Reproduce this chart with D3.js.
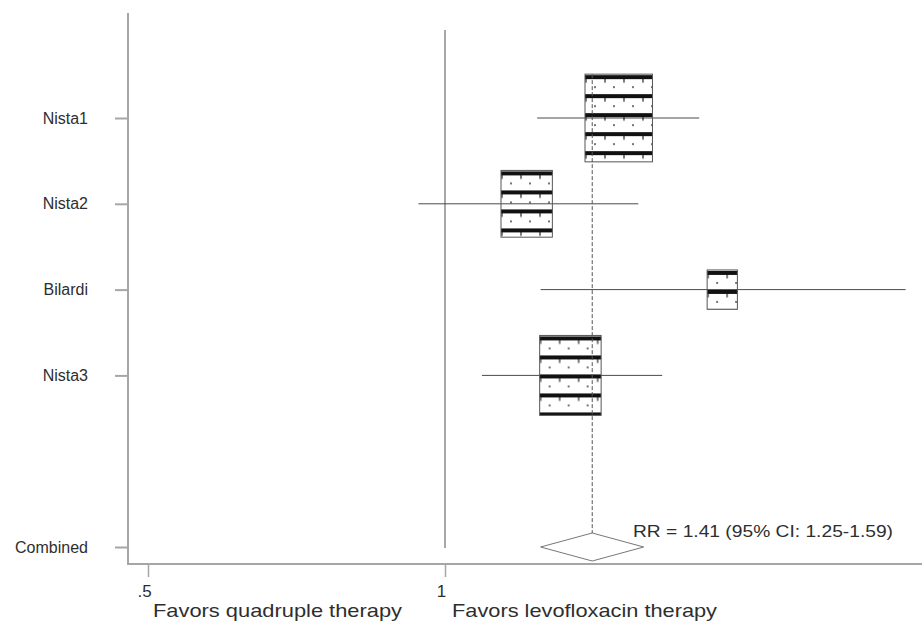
<!DOCTYPE html>
<html>
<head>
<meta charset="utf-8">
<script src="https://cdn.jsdelivr.net/npm/d3@7"></script>
<style>
  html, body { margin: 0; padding: 0; background: #fff; }
  svg { display: block; font-family: "Liberation Sans", Arial, Helvetica, sans-serif; }
</style>
</head>
<body>
<svg id="chart" width="922" height="625"></svg>
<script>
// ---- data ----
const studies = ["Nista1", "Nista2", "Bilardi", "Nista3"];
const rr      = [1.50, 1.21, 1.91, 1.34];
const ciLow   = [1.24, 0.94, 1.25, 1.09];
const ciHigh  = [1.81, 1.57, 2.93, 1.66];
const weights = [38.3, 22.2, 7.7, 31.8];
const combinedLabel = "Combined";
const combined = { rr: 1.41, lo: 1.25, hi: 1.59 };
const xTickValues = [0.5, 1];
const xTickLabels = [".5", "1"];
const resultText = "RR = 1.41 (95% CI: 1.25-1.59)";
const leftLabel = "Favors quadruple therapy";
const rightLabel = "Favors levofloxacin therapy";

// ---- layout ----
const svg = d3.select("#chart");
const plotLeft = 128, plotRight = 922, plotTop = 13, plotBottom = 564;

const x = d3.scaleLog().domain([0.5, 1]).range([148, 445]);
const y = d3.scaleLinear().domain([0, 5]).range([118, 547]);

const rowLabels = studies.concat([combinedLabel]);
const rowIndex = [0, 1, 2, 3, 5];

const axisColor = "#a6a6a6";
const textColor = "#2e2e2e";

const defs = svg.append("defs");

// axes lines
svg.append("line").attr("x1", plotLeft).attr("x2", plotLeft)
  .attr("y1", plotTop).attr("y2", plotBottom)
  .attr("stroke", axisColor).attr("stroke-width", 2);
svg.append("line").attr("x1", plotLeft - 1).attr("x2", plotRight)
  .attr("y1", plotBottom).attr("y2", plotBottom)
  .attr("stroke", axisColor).attr("stroke-width", 2);

// y ticks and labels
const yAxis = d3.axisLeft(y)
  .tickValues(rowIndex)
  .tickFormat(d => rowLabels[rowIndex.indexOf(d)])
  .tickSize(13).tickPadding(27);
const gy = svg.append("g").attr("transform", `translate(${plotLeft},0)`).call(yAxis);
gy.select(".domain").remove();
gy.selectAll(".tick line").attr("stroke", axisColor).attr("stroke-width", 2);
gy.selectAll(".tick text").attr("fill", textColor).style("font-size", "16px")
  .attr("font-family", "'Liberation Sans', Arial, sans-serif");

// x ticks
const xAxis = d3.axisBottom(x).tickValues(xTickValues)
  .tickFormat((d, i) => xTickLabels[i]).tickSize(13).tickPadding(8);
const gx = svg.append("g").attr("transform", `translate(0,${plotBottom})`).call(xAxis);
gx.select(".domain").remove();
gx.selectAll(".tick line").attr("stroke", axisColor).attr("stroke-width", 1.5);
gx.selectAll(".tick text").attr("fill", textColor).style("font-size", "17px")
  .attr("dx", -4).attr("font-family", "'Liberation Sans', Arial, sans-serif");

// null line
svg.append("line").attr("x1", x(1)).attr("x2", x(1))
  .attr("y1", 30).attr("y2", 548)
  .attr("stroke", "#8a8a8a").attr("stroke-width", 1.5);

// CI lines
svg.selectAll("line.ci").data(studies).join("line").attr("class", "ci")
  .attr("x1", (d, i) => x(ciLow[i])).attr("x2", (d, i) => x(ciHigh[i]))
  .attr("y1", (d, i) => y(rowIndex[i])).attr("y2", (d, i) => y(rowIndex[i]))
  .attr("stroke", "#4a4a4a").attr("stroke-width", 1);

// boxes
const boxW = w => 10.9 * Math.sqrt(w);
const boxes = studies.map((s, i) => {
  const w = boxW(weights[i]);
  const h = w * 1.3;
  return { s, i, x0: x(rr[i]) - w / 2, y0: y(rowIndex[i]) - h / 2, w, h };
});

boxes.forEach(b => {
  const p = defs.append("pattern").attr("id", "pat" + b.i)
    .attr("patternUnits", "userSpaceOnUse").attr("width", 19).attr("height", 19)
    .attr("patternTransform", `translate(${b.x0},${b.y0 + 1})`);
  p.append("rect").attr("x", 0).attr("y", 0).attr("width", 19).attr("height", 4).attr("fill", "#111");
  p.append("line").attr("x1", 1).attr("x2", 1).attr("y1", 4).attr("y2", 7.5)
    .attr("stroke", "#222").attr("stroke-width", 1.2);
  p.append("circle").attr("cx", 10).attr("cy", 12).attr("r", 0.9).attr("fill", "#333");
});

svg.selectAll("rect.box").data(boxes).join("rect").attr("class", "box")
  .attr("x", d => d.x0).attr("y", d => d.y0)
  .attr("width", d => d.w).attr("height", d => d.h)
  .attr("fill", d => `url(#pat${d.i})`)
  .attr("stroke", "#555").attr("stroke-width", 1);

// diamond
const dy = y(5), dh = 14;
svg.append("path")
  .attr("d", `M${x(combined.lo)},${dy} L${x(combined.rr)},${dy - dh} L${x(combined.hi)},${dy} L${x(combined.rr)},${dy + dh} Z`)
  .attr("fill", "#fff").attr("stroke", "#777").attr("stroke-width", 1);

// dashed combined line
svg.append("line").attr("x1", x(combined.rr)).attr("x2", x(combined.rr))
  .attr("y1", boxes[0].y0).attr("y2", dy - dh)
  .attr("stroke", "#555").attr("stroke-width", 1).attr("stroke-dasharray", "4,2");

// result text
svg.append("text").attr("x", 633).attr("y", 537)
  .attr("fill", textColor).style("font-size", "17px")
  .attr("textLength", 260).attr("lengthAdjust", "spacingAndGlyphs")
  .text(resultText);

// bottom labels
svg.append("text").attr("x", 153).attr("y", 617)
  .attr("fill", textColor).style("font-size", "19px")
  .attr("textLength", 249).attr("lengthAdjust", "spacingAndGlyphs")
  .text(leftLabel);
svg.append("text").attr("x", 452).attr("y", 617)
  .attr("fill", textColor).style("font-size", "19px")
  .attr("textLength", 265).attr("lengthAdjust", "spacingAndGlyphs")
  .text(rightLabel);
</script>
</body>
</html>
